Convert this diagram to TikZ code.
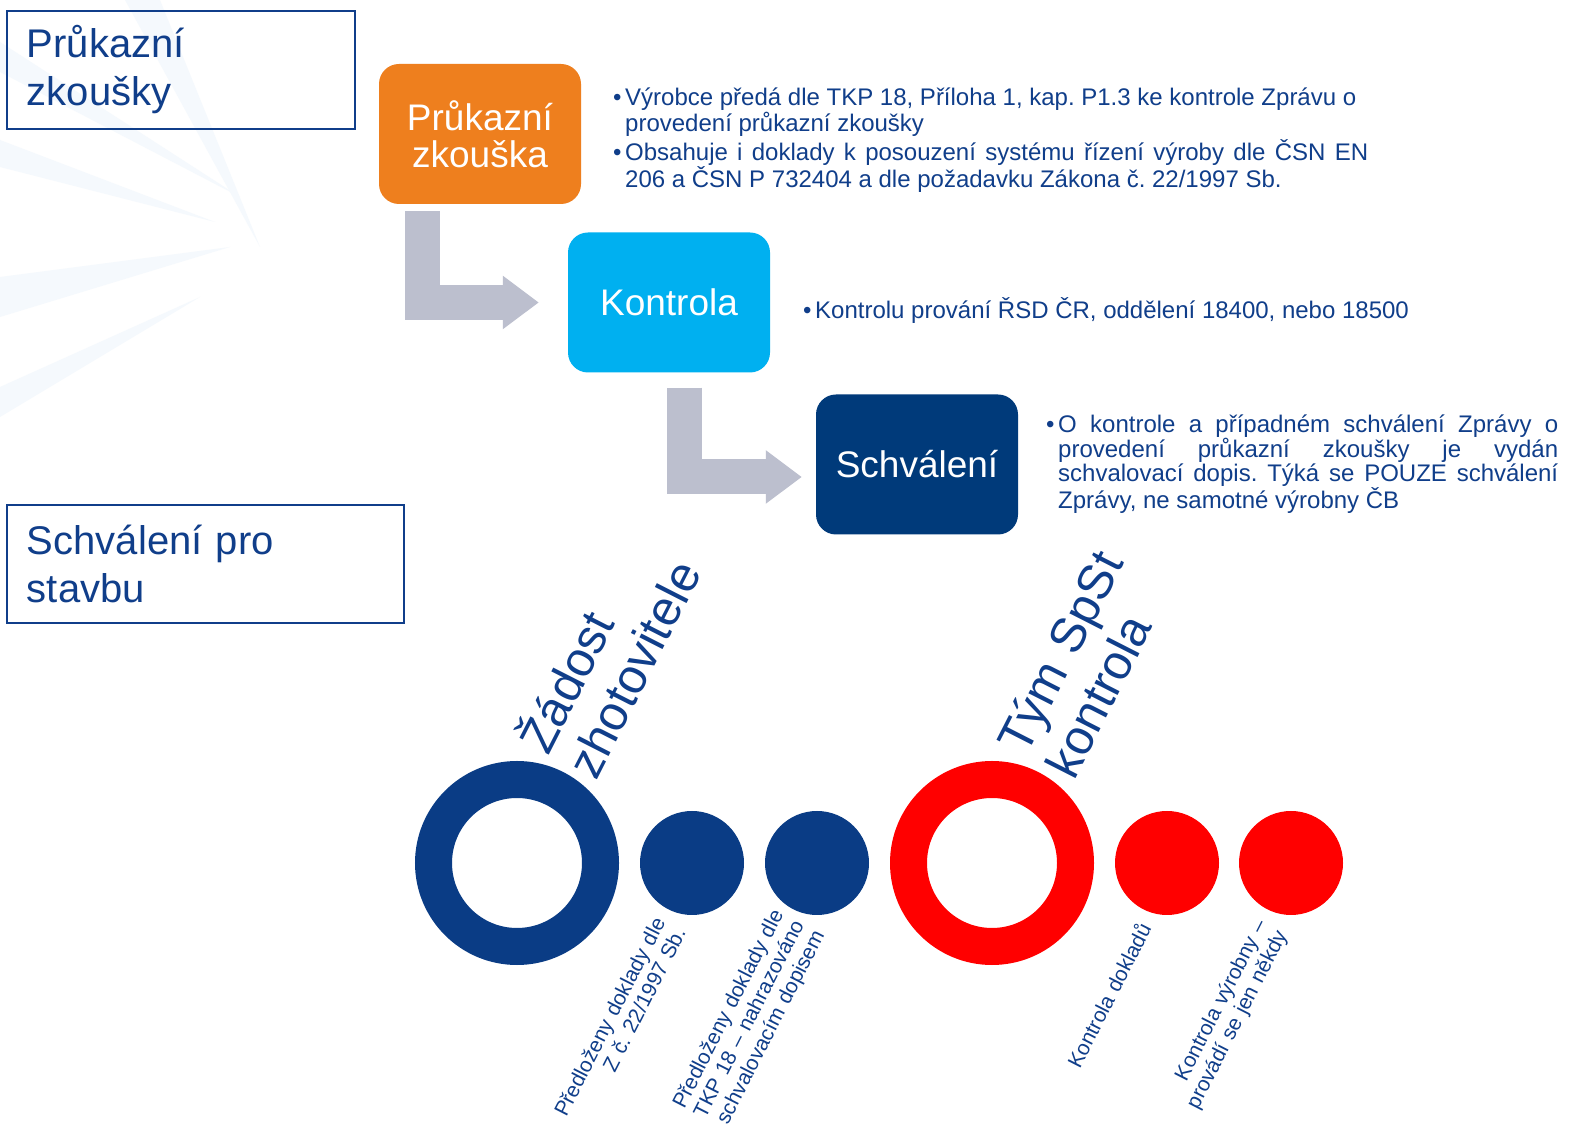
\documentclass[tikz,border=0pt]{standalone}
\usepackage{fontspec}
\setmainfont{Liberation Sans}
\usetikzlibrary{arrows.meta}

\definecolor{tdblue}{RGB}{16,62,138}
\definecolor{przorange}{RGB}{238,127,30}
\definecolor{koncyan}{RGB}{0,176,240}
\definecolor{schnavy}{RGB}{0,58,122}
\definecolor{ringblue}{RGB}{10,60,133}
\definecolor{ringred}{RGB}{255,0,0}
\definecolor{arrowgray}{RGB}{188,191,206}
\definecolor{swoosh}{RGB}{245,249,253}

\frenchspacing

\tikzset{
  leftbox/.style={draw=tdblue, line width=1.5pt, inner sep=0pt, minimum height=118pt,
    align=left, text=tdblue, font=\fontsize{40}{48}\selectfont},
  stepbox/.style={rounded corners=20pt, minimum width=202pt, minimum height=140pt,
    inner sep=0pt, text=white, align=center, font=\fontsize{37}{37}\selectfont},
  bendarrow/.style={draw=arrowgray, line width=35pt, -{Triangle[length=36pt,width=51pt]}},
  bullets/.style={anchor=base west, inner sep=0pt, text=tdblue, align=justify,
    font=\fontsize{24}{23.5}\selectfont},
  bulletmark/.style={anchor=base west, inner sep=0pt, text=tdblue, font=\fontsize{24}{24}\selectfont},
  ringnode/.style={circle, line width=37pt, minimum size=167pt, inner sep=0pt},
  fulldot/.style={circle, minimum size=104pt, inner sep=0pt},
  bigtilt/.style={rotate=63, anchor=base west, inner sep=0pt, text width=300pt,
    align=left, text=tdblue, font=\fontsize{49}{54}\selectfont},
  smalltilt/.style={rotate=63, anchor=base east, inner sep=0pt, text width=260pt,
    align=right, text=tdblue, font=\fontsize{21}{23}\selectfont},
}

\begin{document}
\begin{tikzpicture}[x=1pt, y=1pt]
  \useasboundingbox[fill=white] (0,0) rectangle (1577,1127);

  % faint background streaks
  \fill[swoosh] (0,987) -- (0,960) -- (215,905) -- cycle;
  \fill[swoosh] (0,850) -- (0,810) -- (230,880) -- cycle;
  \fill[swoosh] (0,740) -- (0,710) -- (200,830) -- cycle;
  \fill[swoosh] (125,1127) -- (160,1127) -- (260,880) -- cycle;
  \fill[swoosh] (0,1085) -- (0,1055) -- (240,930) -- cycle;

  % section labels
  \node[leftbox, minimum width=348pt, text width=308pt] (pzlabel) at (181,1057) {Průkazní\\zkoušky};
  \node[leftbox, minimum width=397pt, text width=357pt] (splabel) at (205.5,563) {Schválení pro\\stavbu};

  % steps
  \node[stepbox, fill=przorange] (prz) at (480,993) {Průkazní\\zkouška};
  \node[stepbox, fill=koncyan]   (kon) at (669,824.5) {Kontrola};
  \node[stepbox, fill=schnavy]   (sch) at (917,662.5) {Schválení};

  \draw[bendarrow, shorten >=29pt] ([xshift=43.5pt,yshift=-7pt]prz.south west) |- (kon.west);
  \draw[bendarrow, shorten >=14pt] ([xshift=116.5pt,yshift=-15pt]kon.south west) |- ([yshift=-12.5pt]sch.west);

  % notes
  \node[bullets, text width=743pt] (przinfo1) at (625,1021)
    {Výrobce předá dle TKP 18, Příloha 1, kap. P1.3 ke kontrole Zprávu o\newline provedení průkazní zkoušky};
  \node[bulletmark] (przdot1) at ([xshift=-12pt]przinfo1.base west) {\textbullet};
  \node[bullets, text width=743pt] (przinfo2) at (625,966)
    {Obsahuje i doklady k posouzení systému řízení výroby dle ČSN EN\linebreak 206 a ČSN P 732404 a dle požadavku Zákona č.~22/1997 Sb.};
  \node[bulletmark] (przdot2) at ([xshift=-12pt]przinfo2.base west) {\textbullet};
  \node[bulletmark] (koninfo) at (815,808) {Kontrolu prování ŘSD ČR, oddělení 18400, nebo 18500};
  \node[bulletmark] (kondot) at ([xshift=-12pt]koninfo.base west) {\textbullet};
  \node[bullets, text width=500pt, font=\fontsize{24}{24.5}\selectfont] (schinfo) at (1058,694)
    {O kontrole a případném schválení Zprávy o\linebreak provedení průkazní zkoušky je vydán\linebreak
    schvalovací dopis. Týká se POUZE schválení\linebreak Zprávy, ne samotné výrobny ČB};
  \node[bulletmark] (schdot) at ([xshift=-12pt]schinfo.base west) {\textbullet};

  % circles
  \node[ringnode, draw=ringblue] (zring) at (517,264) {};
  \node[fulldot, fill=ringblue, right of=zring, node distance=175pt] (zdot1) {};
  \node[fulldot, fill=ringblue, right of=zdot1, node distance=125pt] (zdot2) {};
  \node[ringnode, draw=ringred, right of=zdot2, node distance=175pt] (tring) {};
  \node[fulldot, fill=ringred, right of=tring, node distance=175pt] (tdot1) {};
  \node[fulldot, fill=ringred, right of=tdot1, node distance=124pt] (tdot2) {};

  % tilted labels
  \node[bigtilt] (zlab) at (548,370) {Žádost\\zhotovitele};
  \node[bigtilt] (tlab) at (1026,370) {Tým SpSt\\kontrola};
  \node[smalltilt] (zlab1) at (666,205) {Předloženy doklady dle\\Z č. 22/1997 Sb.};
  \node[smalltilt] (zlab2) at (784,213) {Předloženy doklady dle\\TKP 18 – nahrazováno\\schvalovacím dopisem};
  \node[smalltilt] (tlab1) at (1152,199) {Kontrola dokladů};
  \node[smalltilt] (tlab2) at (1267,203) {Kontrola výrobny –\\provádí se jen někdy};
\end{tikzpicture}
\end{document}
